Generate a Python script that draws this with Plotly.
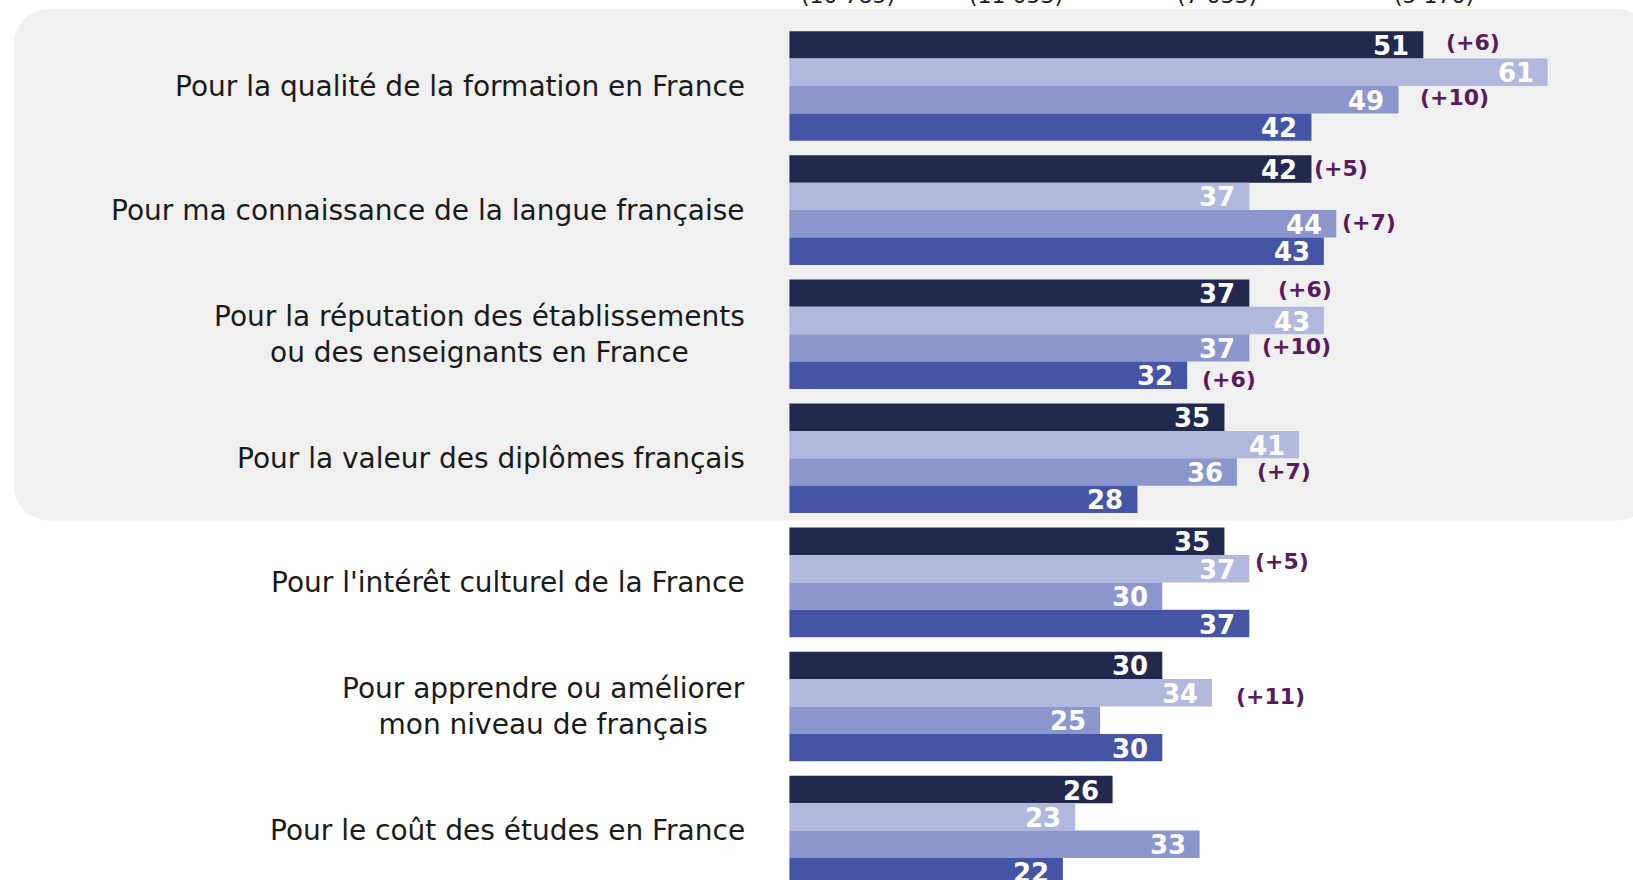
import plotly.graph_objects as go

# ---------------- data ----------------
categories = [
    "Pour la qualité de la formation en France",
    "Pour ma connaissance de la langue française",
    "Pour la réputation des établissements<br>ou des enseignants en France",
    "Pour la valeur des diplômes français",
    "Pour l'intérêt culturel de la France",
    "Pour apprendre ou améliorer<br>mon niveau de français",
    "Pour le coût des études en France",
]
series_names = ["Série 1", "Série 2", "Série 3", "Série 4"]
series_1 = [51, 42, 37, 35, 35, 30, 26]
series_2 = [61, 37, 43, 41, 37, 34, 23]
series_3 = [49, 44, 37, 36, 30, 25, 33]
series_4 = [42, 43, 32, 28, 37, 30, 22]
series_values = [series_1, series_2, series_3, series_4]
series_colors = ["#22294f", "#b0b8de", "#8a96cc", "#4654a5"]

# header sample sizes (partly cut off at the top of the picture)
header_labels = ["(10 785)", "(11 053)", "(7 033)", "(5 170)"]
header_x_px = [848, 1016, 1217, 1434]

# evolution annotations: (category index, series index, text, x position, y shift px)
delta_group = [0, 0, 1, 1, 2, 2, 2, 3, 4, 5]
delta_series = [0, 2, 0, 2, 0, 2, 3, 2, 1, 1]
delta_text = ["(+6)", "(+10)", "(+5)", "(+7)", "(+6)", "(+10)", "(+6)", "(+7)", "(+5)", "(+11)"]
delta_x = [55.0, 53.5, 44.4, 46.6, 41.5, 40.8, 35.4, 39.8, 39.6, 38.7]
delta_yshift = [2, 2, 1, 1, 4, 1, -4, 1, 7, -4]

# ---------------- geometry ----------------
W, H = 1633, 880
x0_px = 789.4          # pixel of value 0
px_per_unit = 12.43
first_center_px = 86.0
group_pitch_px = 124.1
bar_px = 27.4

x_range = [-x0_px / px_per_unit, (W - x0_px) / px_per_unit]
y_range = [(H - first_center_px) / group_pitch_px, -first_center_px / group_pitch_px]
bargap = 1 - 4 * bar_px / group_pitch_px
bar_w = (1 - bargap) / 4

ypos = list(range(len(categories)))
FONT = "DejaVu Sans, Verdana, sans-serif"

fig = go.Figure()
for name, vals, col in zip(series_names, series_values, series_colors):
    fig.add_trace(go.Bar(
        x=vals, y=ypos, orientation="h", name=name,
        marker=dict(color=col, line=dict(width=0)),
        hoverinfo="x",
    ))

annotations = []
# value labels inside the bar ends
for j, vals in enumerate(series_values):
    for i, v in enumerate(vals):
        annotations.append(dict(
            x=v, y=i + (j - 1.5) * bar_w, xref="x", yref="y",
            text=f"<b>{v}</b>", showarrow=False, xanchor="right", yanchor="middle",
            xshift=-12, yshift=-1,
            font=dict(family=FONT, size=26, color="white"),
        ))

# category labels
for i, c in enumerate(categories):
    annotations.append(dict(
        x=0, y=i, xref="x", yref="y", text=c, showarrow=False,
        xanchor="right", yanchor="middle", align="center", xshift=-42,
        font=dict(family=FONT, size=28, color="#1a1a1a"),
    ))

# evolution labels
for g, s, t, xv, ys in zip(delta_group, delta_series, delta_text, delta_x, delta_yshift):
    annotations.append(dict(
        x=xv, y=g + (s - 1.5) * bar_w, xref="x", yref="y", text=f"<b>{t}</b>",
        showarrow=False, xanchor="center", yanchor="middle", yshift=ys,
        font=dict(family=FONT, size=22, color="#5a1a5e"),
    ))

# header labels (cut by the top edge)
for t, xp in zip(header_labels, header_x_px):
    annotations.append(dict(
        x=xp / W, y=1 - 10 / H, xref="paper", yref="paper", text=t, showarrow=False,
        xanchor="center", yanchor="bottom",
        font=dict(family=FONT, size=22, color="#1a1a1a"),
    ))

# rounded grey panel behind the first four categories (pixel coords -> paper)
L, T, R, B, r = 14, 9, 1652, 520.5, 35
k = 0.5523 * r
def P(px, py):
    return f"{px / W:.5f},{1 - py / H:.5f}"
path = (
    f"M {P(L + r, T)} L {P(R - r, T)} "
    f"C {P(R - r + k, T)} {P(R, T + r - k)} {P(R, T + r)} "
    f"L {P(R, B - r)} "
    f"C {P(R, B - r + k)} {P(R - r + k, B)} {P(R - r, B)} "
    f"L {P(L + r, B)} "
    f"C {P(L + r - k, B)} {P(L, B - r + k)} {P(L, B - r)} "
    f"L {P(L, T + r)} "
    f"C {P(L, T + r - k)} {P(L + r - k, T)} {P(L + r, T)} Z"
)

fig.update_layout(
    width=W, height=H,
    margin=dict(l=0, r=0, t=0, b=0),
    barmode="group", bargap=bargap, bargroupgap=0,
    showlegend=False,
    plot_bgcolor="white", paper_bgcolor="white",
    xaxis=dict(range=x_range, visible=False, fixedrange=True),
    yaxis=dict(range=y_range, visible=False, fixedrange=True),
    shapes=[dict(type="path", path=path, xref="paper", yref="paper",
                 fillcolor="#f0f0f0", line=dict(width=0), layer="below")],
    annotations=annotations,
)

fig.write_html("out.html", config={"displayModeBar": False},
               post_script="document.body.style.margin='0';")
